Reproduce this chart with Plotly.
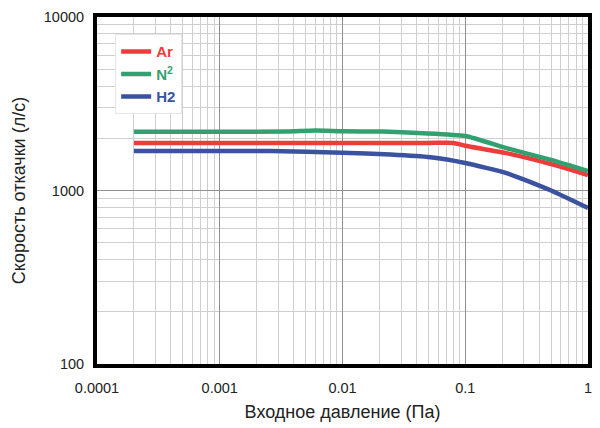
import plotly.graph_objects as go

pressure_ar = [0.0002, 0.001, 0.01, 0.05, 0.08, 0.1, 0.22, 0.5, 1.0]
speed_ar = [1880, 1880, 1880, 1880, 1880, 1812, 1637, 1420, 1228]

pressure_n2 = [0.0002, 0.001, 0.0035, 0.006, 0.01, 0.021, 0.045, 0.1, 0.22, 0.5, 1.0]
speed_n2 = [2183, 2183, 2185, 2215, 2195, 2185, 2140, 2062, 1750, 1500, 1295]

pressure_h2 = [0.0002, 0.001, 0.0026, 0.01, 0.0245, 0.052, 0.1, 0.22, 0.5, 1.0]
speed_h2 = [1689, 1689, 1689, 1650, 1610, 1553, 1440, 1257, 1000, 793]

series = [
    ("Ar", pressure_ar, speed_ar, "#ee3b3b"),
    ("N<sup>2</sup>", pressure_n2, speed_n2, "#33a06f"),
    ("H2", pressure_h2, speed_h2, "#3a52a0"),
]

x_ticks = [0.0001, 0.001, 0.01, 0.1, 1]
x_labels = ["0.0001", "0.001", "0.01", "0.1", "1"]
y_ticks = [100, 1000, 10000]
y_labels = ["100", "1000", "10000"]

FONT = "Liberation Sans, Arial"

fig = go.Figure()
for i, (name, xs, ys, col) in enumerate(series):
    fig.add_trace(go.Scatter(
        x=xs, y=ys, mode="lines",
        line=dict(color=col, width=4.5, shape="spline", smoothing=0.5),
        name=f"<span style='color:{col}'><b>{name}</b></span>",
        legendgroup=f"g{i}",
    ))

axis_common = dict(
    type="log", showline=True, linecolor="black", linewidth=4, mirror=True,
    showgrid=True, gridcolor="#8f8f8f", gridwidth=1, ticks="",
    zeroline=False, automargin=False,
    tickfont=dict(family=FONT, size=14.5, color="#222"),
    minor=dict(showgrid=True, gridcolor="#cfcfcf", gridwidth=1, dtick="D1", ticks=""),
)

fig.update_xaxes(
    **axis_common, range=[-4, 0], tickvals=x_ticks, ticktext=x_labels,
    title=dict(text="Входное давление (Па)", font=dict(family=FONT, size=18, color="#222"), standoff=11),
    ticklabelstandoff=8,
)
fig.update_yaxes(
    **axis_common, range=[2, 4], tickvals=y_ticks, ticktext=y_labels,
    title=dict(text="Скорость откачки (л/с)", font=dict(family=FONT, size=18, color="#222"), standoff=14),
    ticklabelstandoff=6,
)

fig.update_layout(
    width=600, height=428,
    margin=dict(l=97, r=12, t=17, b=64),
    paper_bgcolor="white", plot_bgcolor="white",
    showlegend=True,
    legend=dict(
        x=0.037, y=0.95, xanchor="left", yanchor="top",
        bgcolor="white", bordercolor="#e6e6e6", borderwidth=1,
        font=dict(family=FONT, size=15),
        tracegroupgap=0, itemwidth=30,
    ),
)

fig.write_html(
    "out.html",
    config={"displayModeBar": False},
    post_script="document.body.style.margin='0';document.body.style.padding='0';",
)
